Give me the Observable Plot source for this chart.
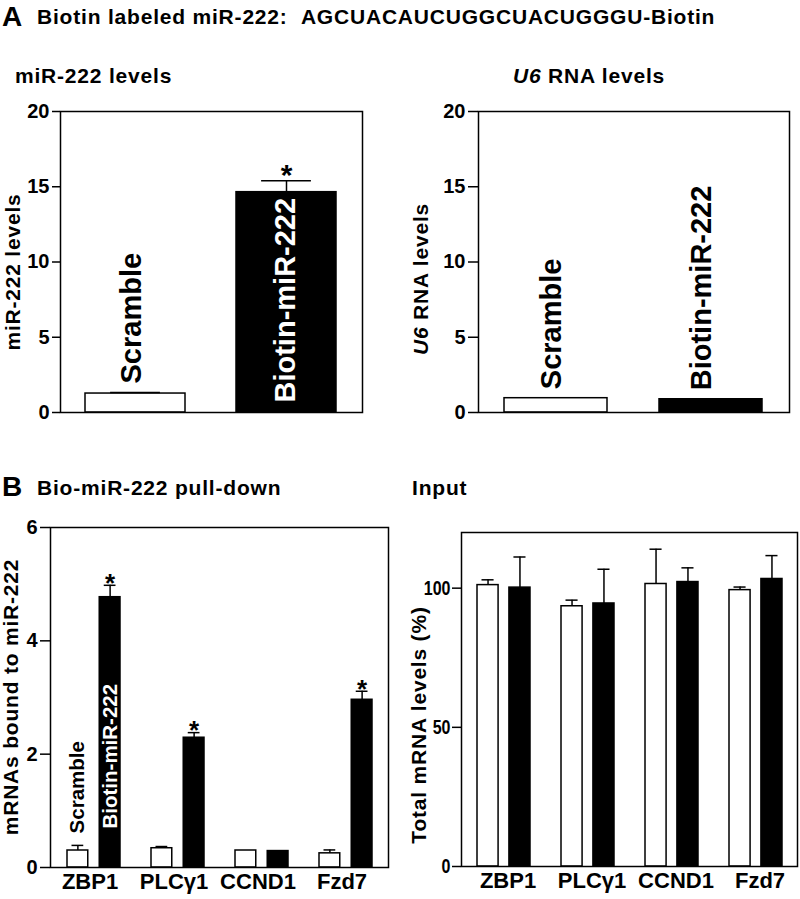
<!DOCTYPE html>
<html>
<head>
<meta charset="utf-8">
<script src="https://cdn.jsdelivr.net/npm/d3@7"></script>
<script src="https://cdn.jsdelivr.net/npm/@observablehq/plot@0.6"></script>
<style>
  html, body { margin: 0; padding: 0; background: #fff; }
  #root { position: relative; width: 800px; height: 899px; background: #fff; overflow: hidden; }
  #root > svg { position: absolute; overflow: visible; }
  .ttl { font-family: "Liberation Sans", Arial, sans-serif; font-weight: bold; fill: #000; }
</style>
</head>
<body>
<div id="root"></div>
<script>
// ---------------- data ----------------
const panelLetters = ["A", "B"];
const headline = "Biotin labeled miR-222:\u00a0\u00a0AGCUACAUCUGGCUACUGGGU-Biotin";
const aCats = ["Scramble", "Biotin-miR-222"];
const mir222Levels = [1.26, 14.64];
const mir222Err = [0.07, 0.76];
const mir222Sig = [false, true];
const u6Levels = [0.95, 0.88];
const aTicks = [0, 5, 10, 15, 20];

const genes = ["ZBP1", "PLC\u03b31", "CCND1", "Fzd7"];
const pulldownScramble = [0.30, 0.34, 0.30, 0.25];
const pulldownScrambleErr = [0.09, 0.03, 0.00, 0.06];
const pulldownBiotin = [4.77, 2.29, 0.29, 2.96];
const pulldownBiotinErr = [0.21, 0.09, 0.00, 0.15];
const pulldownSig = [true, true, false, true];
const pulldownTicks = [0, 2, 4, 6];

const inputScramble = [101.1, 93.5, 101.5, 99.3];
const inputScrambleErr = [1.9, 2.2, 12.5, 1.1];
const inputBiotin = [100.2, 94.5, 102.2, 103.3];
const inputBiotinErr = [11.0, 12.3, 5.1, 8.4];
const inputTicks = [0, 50, 100];

// ---------------- helpers ----------------
const FONT = '"Liberation Sans", Arial, sans-serif';
const root = document.getElementById("root");

function place(svg, left, top) {
  svg.style.left = left + "px";
  svg.style.top = top + "px";
  svg.style.overflow = "visible";
  root.appendChild(svg);
}

function addYLabel(svg, x, y, parts, size, spacing) {
  const t = d3.select(svg).append("text")
    .attr("transform", `translate(${x},${y}) rotate(-90)`)
    .attr("text-anchor", "middle")
    .attr("dominant-baseline", "central")
    .attr("font-family", FONT)
    .attr("font-weight", "bold")
    .attr("font-size", size)
    .attr("letter-spacing", spacing)
    .attr("fill", "#000");
  parts.forEach(([txt, italic]) => {
    t.append("tspan").attr("font-style", italic ? "italic" : "normal").text(txt);
  });
}

const baseStyle = {fontFamily: FONT, fontWeight: "bold", fontSize: "20px", color: "#000", background: "transparent", overflow: "visible"};

// ---------------- titles ----------------
const overlay = d3.create("svg").attr("width", 800).attr("height", 899).node();
overlay.style.left = "0px"; overlay.style.top = "0px";
root.appendChild(overlay);
const ov = d3.select(overlay);
function ttl(x, y, size, spacing) {
  return ov.append("text").attr("class", "ttl").attr("x", x).attr("y", y)
    .attr("font-size", size).attr("letter-spacing", spacing).attr("xml:space", "preserve");
}
ttl(2, 26, 28, 0).text(panelLetters[0]);
ttl(37, 24, 21, 0.8).text(headline);
ttl(15, 83, 21, 0.8).text("miR-222 levels");
{
  const t = ttl(513, 83, 21, 0.8);
  t.append("tspan").attr("font-style", "italic").text("U6");
  t.append("tspan").text(" RNA levels");
}
ttl(2, 496, 28, 0).text(panelLetters[1]);
ttl(37, 495, 21, 0.8).text("Bio-miR-222 pull-down");
ttl(412, 495, 21, 0.8).text("Input");

// ---------------- Panel A (two bars) ----------------
function twoBarPanel({values, errs, sig, labelWhiteInside, left, top, ml, mr, tickSize, tickPadding}) {
  const width = 400, height = 340, mt = 21, mb = 18;
  const data = aCats.map((c, i) => ({cat: c, v: values[i], e: errs ? errs[i] : 0, sig: sig ? sig[i] : false}));
  const W = width - ml - mr;
  const pi = 0.335;
  const bw = (W / 2) * (1 - pi);
  const capInset = (bw - bw * 0.5) / 2;
  const marks = [
    Plot.barY(data.filter(d => d.cat === aCats[0]), {x: "cat", y: "v", fill: "white", stroke: "black", strokeWidth: 1.5}),
    Plot.barY(data.filter(d => d.cat === aCats[1]), {x: "cat", y: "v", fill: "black", stroke: "black", strokeWidth: 1.5}),
  ];
  if (errs) {
    const ed = data.filter(d => d.e > 0);
    marks.push(Plot.ruleX(ed, {x: "cat", y1: "v", y2: d => d.v + d.e, stroke: "black", strokeWidth: 1.5}));
    marks.push(Plot.tickY(ed, {x: "cat", y: d => d.v + d.e, stroke: "black", strokeWidth: 1.5, insetLeft: capInset, insetRight: capInset}));
    marks.push(Plot.text(data.filter(d => d.sig), {x: "cat", y: d => d.v + d.e, text: () => "*", fontSize: 30, dy: -5, lineAnchor: "middle", fill: "black"}));
  }
  // bar labels
  marks.push(Plot.text(data.filter(d => d.cat === aCats[0]), {x: "cat", y: d => d.v + d.e, text: "cat", rotate: -90, textAnchor: "start", lineAnchor: "middle", fontSize: 29, dy: -9, dx: -4, fill: "black"}));
  if (labelWhiteInside) {
    marks.push(Plot.text(data.filter(d => d.cat === aCats[1]), {x: "cat", y: 0, text: "cat", rotate: -90, textAnchor: "start", lineAnchor: "middle", fontSize: 29, dy: -10, dx: -1, fill: "white"}));
  } else {
    marks.push(Plot.text(data.filter(d => d.cat === aCats[1]), {x: "cat", y: d => d.v, text: "cat", rotate: -90, textAnchor: "start", lineAnchor: "middle", fontSize: 29, dy: -9, dx: -9, fill: "black"}));
  }
  marks.push(Plot.axisY({ticks: aTicks, tickSize, tickPadding, strokeWidth: 1.5, fontSize: 20, fontWeight: "bold", label: null, tickFormat: d => String(d)}));
  marks.push(Plot.frame({stroke: "black", strokeWidth: 1.5}));
  const svg = Plot.plot({
    width, height, marginLeft: ml, marginRight: mr, marginTop: mt, marginBottom: mb,
    style: baseStyle,
    x: {type: "band", domain: aCats, paddingInner: pi, paddingOuter: pi / 2, axis: null, label: null},
    y: {domain: [0, 20], axis: null, label: null},
    marks
  });
  place(svg, left, top);
  return svg;
}

const aLeft = twoBarPanel({values: mir222Levels, errs: mir222Err, sig: mir222Sig, labelWhiteInside: true, left: 0, top: 90, ml: 60, mr: 38, tickSize: 8, tickPadding: 3});
addYLabel(aLeft, 12, 182, [["miR-222 levels", false]], 21, 0.8);

const aRight = twoBarPanel({values: u6Levels, errs: null, sig: null, labelWhiteInside: false, left: 400, top: 90, ml: 78, mr: 11, tickSize: 10, tickPadding: 3});
addYLabel(aRight, 20, 189, [["U6", true], [" RNA levels", false]], 21, 0.8);

// ---------------- Panel B (grouped bars) ----------------
function groupedPanel({s, sErr, b, bErr, sig, yDomain, yTicks, left, top, ml, mr, mt, mb, tickSize, tickPadding, narrowTicks, xLabelDx, scrambleLabels}) {
  const width = 400, height = 399;
  const W = width - ml - mr;
  const pi = 0.37;
  const step = W / genes.length;
  const bw = step * (1 - pi);
  const barW = 21;
  const off = (bw - barW) / 2;
  const capW = 12;
  const capIn = (barW - capW) / 2;
  const sd = genes.map((g, i) => ({g, v: s[i], e: sErr[i]}));
  const bd = genes.map((g, i) => ({g, v: b[i], e: bErr[i], sig: sig ? sig[i] : false}));
  const marks = [
    Plot.barY(sd, {x: "g", y: "v", fill: "white", stroke: "black", strokeWidth: 1.5, insetLeft: 0, insetRight: bw - barW}),
    Plot.barY(bd, {x: "g", y: "v", fill: "black", stroke: "black", strokeWidth: 1.5, insetLeft: bw - barW, insetRight: 0}),
    Plot.ruleX(sd.filter(d => d.e > 0), {x: "g", y1: "v", y2: d => d.v + d.e, dx: -off, stroke: "black", strokeWidth: 1.5}),
    Plot.tickY(sd.filter(d => d.e > 0), {x: "g", y: d => d.v + d.e, stroke: "black", strokeWidth: 1.5, insetLeft: capIn, insetRight: bw - barW + capIn}),
    Plot.ruleX(bd.filter(d => d.e > 0), {x: "g", y1: "v", y2: d => d.v + d.e, dx: off, stroke: "black", strokeWidth: 1.5}),
    Plot.tickY(bd.filter(d => d.e > 0), {x: "g", y: d => d.v + d.e, stroke: "black", strokeWidth: 1.5, insetLeft: bw - barW + capIn, insetRight: capIn}),
  ];
  if (sig) {
    marks.push(Plot.text(bd.filter(d => d.sig), {x: "g", y: d => d.v + d.e, text: () => "*", fontSize: 26, dx: off, dy: -2, lineAnchor: "middle", fill: "black"}));
  }
  if (scrambleLabels) {
    marks.push(Plot.text(sd.slice(0, 1), {x: "g", y: d => d.v + d.e, text: () => aCats[0], rotate: -90, textAnchor: "start", lineAnchor: "middle", fontSize: 20.5, dx: -off, dy: -12, fill: "black"}));
    marks.push(Plot.text(bd.slice(0, 1), {x: "g", y: 0, text: () => aCats[1], rotate: -90, textAnchor: "start", lineAnchor: "middle", fontSize: 20.5, dx: off, dy: -39, fill: "white"}));
  }
  marks.push(Plot.axisY({ticks: yTicks, tickSize, tickPadding, strokeWidth: 1.5, fontSize: 20, fontWeight: "bold", label: null, tickFormat: d => String(d)}));
  marks.push(Plot.axisX({tickSize: 0, tickPadding: 6, fontSize: 22, fontWeight: "bold", dx: xLabelDx, label: null}));
  marks.push(Plot.frame({stroke: "black", strokeWidth: 1.5}));
  const svg = Plot.plot({
    width, height, marginLeft: ml, marginRight: mr, marginTop: mt, marginBottom: mb,
    style: baseStyle,
    x: {type: "band", domain: genes, paddingInner: pi, paddingOuter: pi / 2, label: null},
    y: {domain: yDomain, axis: null, label: null},
    marks
  });
  if (narrowTicks) {
    // condensed tick numerals, as in the reference's Input panel
    d3.select(svg).selectAll("g[aria-label='y-axis tick label'] text").each(function() {
      const el = d3.select(this);
      const tr = el.attr("transform") || "";
      el.attr("transform", tr + " scale(0.8,1)");
    });
  }
  place(svg, left, top);
  return svg;
}

const bLeft = groupedPanel({s: pulldownScramble, sErr: pulldownScrambleErr, b: pulldownBiotin, bErr: pulldownBiotinErr, sig: pulldownSig,
  yDomain: [0, 6], yTicks: pulldownTicks, left: 0, top: 500, ml: 50, mr: 12, mt: 27, mb: 32, tickSize: 10, tickPadding: 3,
  narrowTicks: false, xLabelDx: -4, scrambleLabels: true});
addYLabel(bLeft, 10, 197, [["mRNAs bound to miR-222", false]], 21, 0.8);

const bRight = groupedPanel({s: inputScramble, sErr: inputScrambleErr, b: inputBiotin, bErr: inputBiotinErr, sig: null,
  yDomain: [0, 120], yTicks: inputTicks, left: 400, top: 500, ml: 61, mr: 3, mt: 32, mb: 33, tickSize: 9, tickPadding: 2,
  narrowTicks: true, xLabelDx: 4, scrambleLabels: false});
addYLabel(bRight, 18, 225, [["Total mRNA levels (%)", false]], 21, 0.8);
</script>
</body>
</html>
